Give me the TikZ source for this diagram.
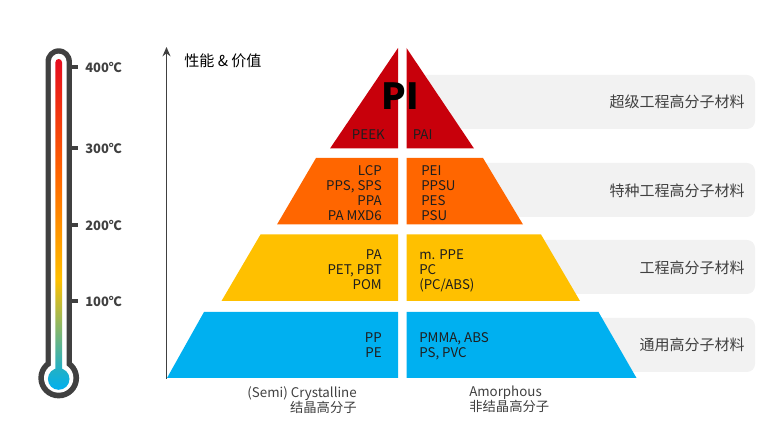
\documentclass[tikz,border=0pt]{standalone}
\usepackage{fontspec}
\setmainfont{Noto Sans CJK SC}
\usetikzlibrary{arrows.meta}
\definecolor{txt}{HTML}{1E1E1E}
\definecolor{thermo}{HTML}{404040}
\definecolor{barg}{HTML}{F2F2F2}
\definecolor{pred}{HTML}{C8000B}
\definecolor{porange}{HTML}{FF6600}
\definecolor{pyellow}{HTML}{FFC000}
\definecolor{pblue}{HTML}{00B0F0}
\definecolor{tred}{HTML}{E60F1E}
\definecolor{tteal}{HTML}{20B0C8}
\pgfdeclareverticalshading{thermgrad}{100bp}{
  color(0bp)=(pblue); color(25bp)=(pblue); color(28bp)=(tteal);
  color(41.6bp)=(pyellow); color(57.4bp)=(porange);
  color(74.4bp)=(tred); color(100bp)=(tred)}
\tikzset{
  x=0.75pt,y=-0.75pt,
  lab/.style={font=\fontsize{10pt}{11.25pt}\selectfont,text=txt,inner sep=0pt},
  rlab/.style={lab,align=right,anchor=north east},
  llab/.style={lab,align=left,anchor=north west},
  clab/.style={lab,anchor=east},
  catlab/.style={font=\fontsize{11.25pt}{13pt}\selectfont,text=thermo,inner sep=0pt,anchor=east},
  temp/.style={font=\fontsize{9.7pt}{11pt}\selectfont\bfseries,text=thermo,inner sep=0pt,anchor=west},
  tick/.style={draw=thermo,line width=3pt},
  bar/.style={fill=barg,rounded corners=6pt},
}
\begin{document}
\begin{tikzpicture}
\useasboundingbox (0,0) rectangle (782,441);
% gray bars
\fill[bar] (415,75) rectangle (755,129);
\fill[bar] (470,163) rectangle (755,217);
\fill[bar] (530,240) rectangle (755,294);
\fill[bar] (585,318) rectangle (755,372);
% thermometer
\fill[thermo] (45.5,61.5) arc[start angle=180,end angle=360,radius=13.2] -- (71.9,370) -- (45.5,370) -- cycle;
\fill[thermo] (58.7,378) circle (20.4);
\fill[white] (50.9,61.5) arc[start angle=180,end angle=360,radius=7.8] -- (66.5,372) -- (50.9,372) -- cycle;
\fill[white] (58.7,378) circle (14.7);
\path[shading=thermgrad] (55.4,62.3) arc[start angle=180,end angle=360,radius=3.3] -- (62,372) -- (55.4,372) -- cycle
  (58.7,379) circle (10.8);
\foreach \yy/\tt in {67.3/400,148/300,225/200,301.5/100}{
  \draw[tick] (71,\yy) -- (78,\yy);
  \node[temp] at (85,\yy) {\tt℃};
}
% axis
\draw[thermo,line width=1.4pt,-{Stealth[length=7pt,width=6pt]}] (166.5,379) -- (166.5,47);
\node[anchor=west,inner sep=0pt,font=\fontsize{11.3pt}{13pt}\selectfont,text=black] (axl) at (184,61) {性能 \& 价值};
% pyramid
\fill[pred] (398,48) -- (398,148.5) -- (330,148.5) -- cycle;
\fill[pred] (406.5,48) -- (406.5,148.5) -- (474,148.5) -- cycle;
\fill[porange] (316,158) -- (398,158) -- (398,224.5) -- (277,224.5) -- cycle;
\fill[porange] (406.5,158) -- (483,158) -- (523,224.5) -- (406.5,224.5) -- cycle;
\fill[pyellow] (260.5,234.5) -- (398,234.5) -- (398,301) -- (221.5,301) -- cycle;
\fill[pyellow] (406.5,234.5) -- (541,234.5) -- (580,301) -- (406.5,301) -- cycle;
\fill[pblue] (204,312) -- (398,312) -- (398,378) -- (167,378) -- cycle;
\fill[pblue] (406.5,312) -- (598.5,312) -- (636.5,378) -- (406.5,378) -- cycle;
% labels
\node[font=\fontsize{27pt}{30pt}\selectfont\bfseries,text=black,inner sep=0pt] (pi) at (400,96.5) {PI};
\node[clab] (peek) at (385,134.5) {PEEK};
\node[lab,anchor=west] (pai) at (412.5,134.5) {PAI};
\node[rlab] (c1) at (382,165.3) {LCP\\PPS, SPS\\PPA\\PA MXD6};
\node[llab] (a1) at (421,165.3) {PEI\\PPSU\\PES\\PSU};
\node[rlab] (c2) at (382,249.5) {PA\\PET, PBT\\POM};
\node[llab] (a2) at (419,249.5) {m. PPE\\PC\\(PC/ABS)};
\node[rlab] (c3) at (382,332.5) {PP\\PE};
\node[llab] (a3) at (419,332.5) {PMMA, ABS\\PS, PVC};
\node[rlab,text=thermo] (cc) at (357,386) {(Semi) Crystalline\\结晶高分子};
\node[llab,text=thermo] (aa) at (469,386) {Amorphous\\非结晶高分子};
\node[catlab] (n1) at (745,102) {超级工程高分子材料};
\node[catlab] (n2) at (745,190.5) {特种工程高分子材料};
\node[catlab] (n3) at (745,267.5) {工程高分子材料};
\node[catlab] (n4) at (745,345) {通用高分子材料};
\end{tikzpicture}
\end{document}
